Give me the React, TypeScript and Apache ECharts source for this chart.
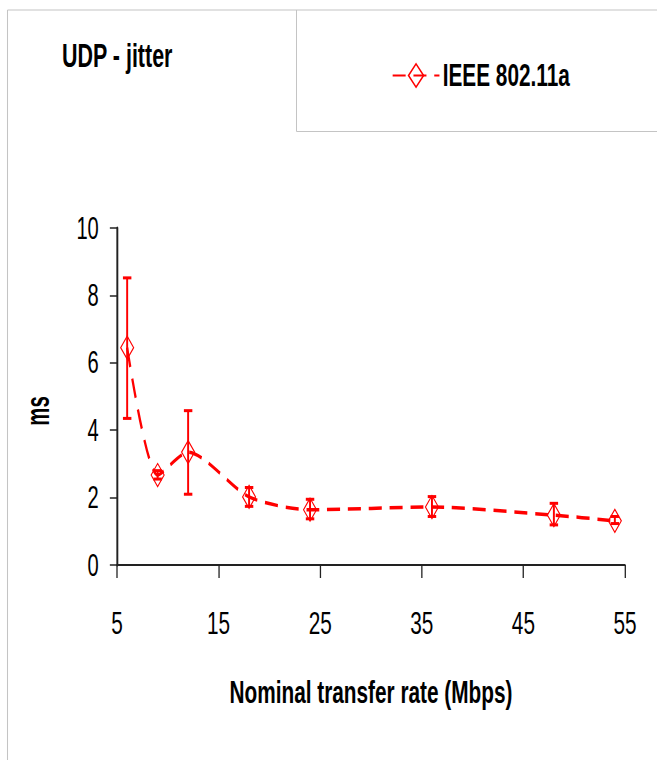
import React, { useEffect, useRef } from "react";
import * as echarts from "echarts";

// ---- data ----
const rates = [6, 9, 12, 18, 24, 36, 48, 54];
const jitterMs = [6.45, 2.67, 3.35, 2.02, 1.64, 1.72, 1.48, 1.31];
const errLow = [4.35, 2.55, 2.1, 1.74, 1.37, 1.44, 1.19, 1.23];
const errHigh = [8.52, 2.8, 4.58, 2.3, 1.95, 2.03, 1.83, 1.44];
const xTicks = [5, 15, 25, 35, 45, 55];
const seriesName = "IEEE 802.11a";
const titleText = "UDP - jitter";
const xAxisName = "Nominal transfer rate (Mbps)";
const yAxisName = "ms";

// The reference uses a strongly condensed font; the chart is drawn wider and squeezed.
const SQUEEZE = 0.65;
const PAGE_W = 657;
const PAGE_H = 760;
const INNER_W = PAGE_W / SQUEEZE;
const FONT = "'Liberation Sans', Arial, Helvetica, sans-serif";
const RED = "#ff0000";
const BORDER = "#c4c4c4";

const px = (pageX: number) => pageX / SQUEEZE;

function renderErr(params: any, api: any) {
  const x = api.value(0);
  const lo = api.value(1);
  const hi = api.value(2);
  const top = api.coord([x, hi]);
  const bot = api.coord([x, lo]);
  const hw = 6.5;
  const st = { stroke: RED, lineWidth: 3 };
  return {
    type: "group",
    children: [
      { type: "line", shape: { x1: top[0], y1: top[1], x2: bot[0], y2: bot[1] }, style: st },
      { type: "line", shape: { x1: top[0] - hw, y1: top[1], x2: top[0] + hw, y2: top[1] }, style: st },
      { type: "line", shape: { x1: bot[0] - hw, y1: bot[1], x2: bot[0] + hw, y2: bot[1] }, style: st },
    ],
  };
}

export default function App() {
  const ref = useRef<HTMLDivElement>(null);
  useEffect(() => {
    if (!ref.current) return;
    const chart = echarts.init(ref.current, null, { renderer: "svg", width: INNER_W, height: PAGE_H });
    const plotLeft = px(117);
    const plotRight = px(625);
    chart.setOption({
      animation: false,
      backgroundColor: "#ffffff",
      textStyle: { fontFamily: FONT },
      grid: { left: plotLeft, right: INNER_W - plotRight, top: 228, bottom: PAGE_H - 565, containLabel: false },
      legend: {
        data: [seriesName],
        left: px(392),
        top: 59.5,
        padding: 0,
        itemWidth: 72,
        itemHeight: 29,
        textStyle: { fontSize: 32, fontWeight: "bold", color: "#000", fontFamily: FONT },
      },
      xAxis: {
        type: "value",
        min: 5,
        max: 55,
        interval: 10,
        name: xAxisName,
        nameLocation: "middle",
        nameGap: 111,
        nameTextStyle: { fontSize: 32, fontWeight: "bold", color: "#000", fontFamily: FONT },
        axisLine: { show: true, onZero: false, lineStyle: { color: "#222", width: 2 } },
        axisTick: { show: true, length: 13, customValues: xTicks, lineStyle: { color: "#222", width: 2 } },
        axisLabel: { fontSize: 32, color: "#000", margin: 42, customValues: xTicks, fontFamily: FONT },
        splitLine: { show: false },
      },
      yAxis: {
        type: "value",
        min: 0,
        max: 10,
        interval: 2,
        axisLine: { show: true, lineStyle: { color: "#222", width: 3 } },
        axisTick: { show: true, length: 11, lineStyle: { color: "#222", width: 1.5 } },
        axisLabel: { fontSize: 31, color: "#000", margin: 28, fontFamily: FONT },
        splitLine: { show: false },
      },
      series: [
        {
          type: "custom",
          name: "error",
          renderItem: renderErr,
          data: rates.map((r, i) => [r, errLow[i], errHigh[i]]),
          encode: { x: 0, y: [1, 2] },
          z: 2,
        },
        {
          type: "line",
          name: seriesName,
          data: rates.map((r, i) => [r, jitterMs[i]]),
          smooth: 0.25,
          symbol: "diamond",
          symbolSize: [20, 23],
          itemStyle: { color: "rgba(255,255,255,0)", borderColor: RED, borderWidth: 1.5 },
          lineStyle: { color: RED, width: 3.5, type: [20, 12] },
          z: 3,
        },
      ],
      graphic: [
        { type: "line", shape: { x1: px(7.5), y1: 10, x2: INNER_W, y2: 10 }, style: { stroke: BORDER, lineWidth: 1.2 } },
        { type: "line", shape: { x1: px(7.5), y1: 10, x2: px(7.5), y2: PAGE_H }, style: { stroke: BORDER, lineWidth: 1.6 } },
        { type: "line", shape: { x1: px(296.5), y1: 10, x2: px(296.5), y2: 131.5 }, style: { stroke: BORDER, lineWidth: 1.6 } },
        { type: "line", shape: { x1: px(296.5), y1: 131.5, x2: INNER_W, y2: 131.5 }, style: { stroke: BORDER, lineWidth: 1.2 } },
        {
          type: "text",
          x: px(62),
          y: 56,
          style: { text: titleText, fontSize: 33, fontWeight: "bold", fontFamily: FONT, fill: "#000", align: "left", verticalAlign: "middle" },
        },
        {
          type: "text",
          x: px(37),
          y: 411,
          rotation: Math.PI / 2,
          scaleX: 0.6,
          scaleY: 1 / SQUEEZE,
          style: { text: yAxisName, fontSize: 34, fontWeight: "bold", fontFamily: FONT, fill: "#000", align: "center", verticalAlign: "middle" },
        },
      ],
    });
    return () => chart.dispose();
  }, []);

  return (
    <div style={{ position: "fixed", left: 0, top: 0, width: PAGE_W, height: PAGE_H, overflow: "hidden", background: "#fff" }}>
      <div
        ref={ref}
        style={{ width: INNER_W, height: PAGE_H, transform: `scaleX(${SQUEEZE})`, transformOrigin: "0 0" }}
      />
    </div>
  );
}
